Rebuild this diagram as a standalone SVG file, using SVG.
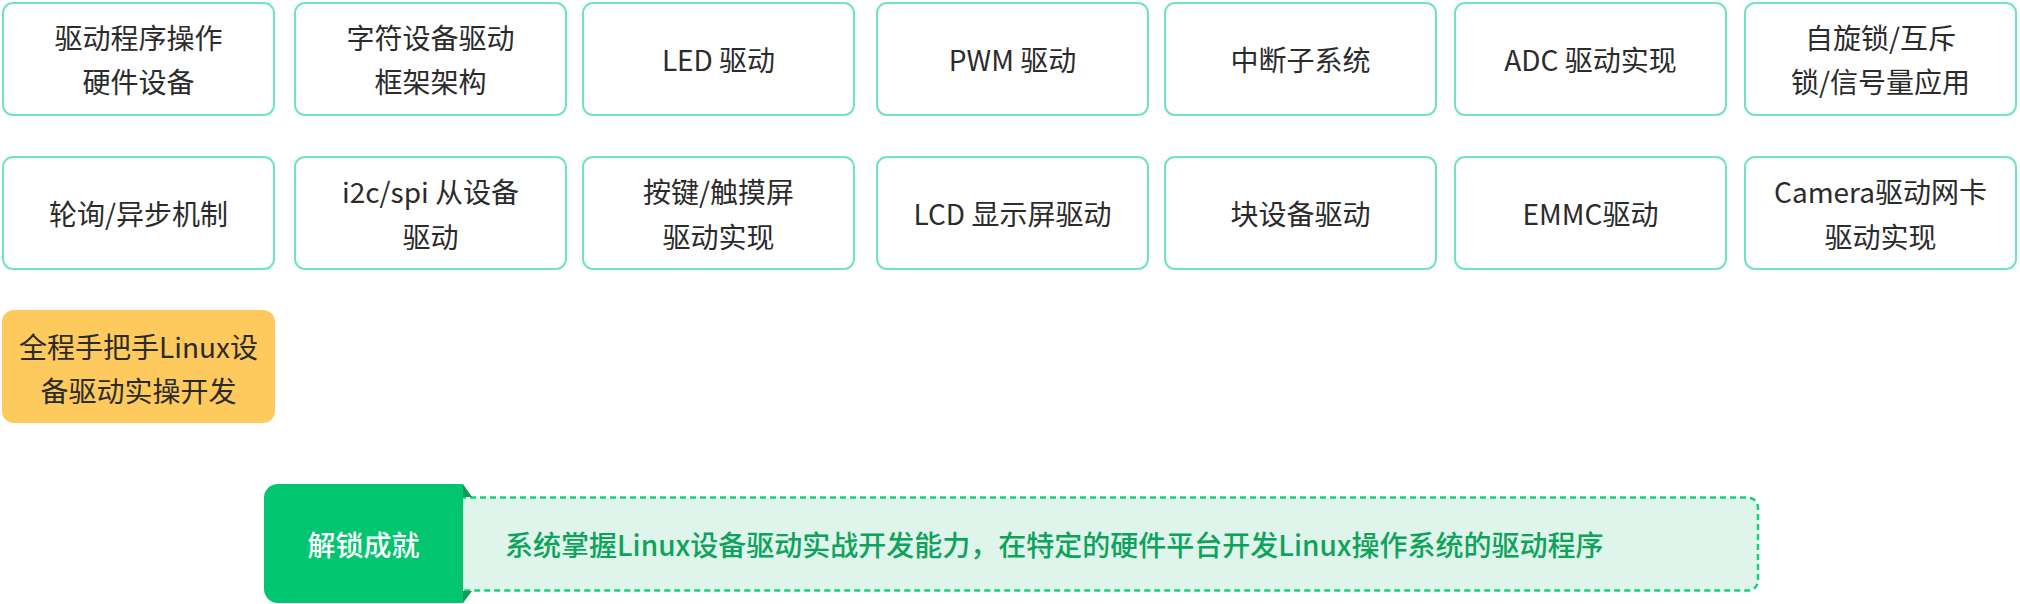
<svg xmlns="http://www.w3.org/2000/svg" width="2020" height="604" viewBox="0 0 2020 604">
<style>
.box{fill:#ffffff;stroke:#6fe6b6;stroke-width:2}
.t{font-family:"Noto Sans CJK SC","Noto Sans",sans-serif;font-size:28px;fill:#2b2b2b;text-anchor:middle;dominant-baseline:central}
.tw{font-family:"Noto Sans CJK SC","Noto Sans",sans-serif;font-size:28px;fill:#ffffff;text-anchor:middle;dominant-baseline:central;font-weight:500}
.tg{font-family:"Noto Sans CJK SC","Noto Sans",sans-serif;font-size:28px;fill:#0ea35c;dominant-baseline:central;font-weight:500}
</style>
<rect width="2020" height="604" fill="#ffffff"/>
<g id="n1"><rect class="box" x="3" y="3" width="271" height="112" rx="10"/><text class="t" x="138.5" y="36.5">驱动程序操作</text><text class="t" x="138.5" y="80.5">硬件设备</text></g>
<g id="n2"><rect class="box" x="295" y="3" width="271" height="112" rx="10"/><text class="t" x="430.5" y="36.5">字符设备驱动</text><text class="t" x="430.5" y="80.5">框架架构</text></g>
<g id="n3"><rect class="box" x="583" y="3" width="271" height="112" rx="10"/><text class="t" x="718.5" y="58.5">LED 驱动</text></g>
<g id="n4"><rect class="box" x="877" y="3" width="271" height="112" rx="10"/><text class="t" x="1012.5" y="58.5">PWM 驱动</text></g>
<g id="n5"><rect class="box" x="1165" y="3" width="271" height="112" rx="10"/><text class="t" x="1300.5" y="58.5">中断子系统</text></g>
<g id="n6"><rect class="box" x="1455" y="3" width="271" height="112" rx="10"/><text class="t" x="1590.5" y="58.5">ADC 驱动实现</text></g>
<g id="n7"><rect class="box" x="1745" y="3" width="271" height="112" rx="10"/><text class="t" x="1880.5" y="36.5">自旋锁/互斥</text><text class="t" x="1880.5" y="80.5">锁/信号量应用</text></g>
<g id="n8"><rect class="box" x="3" y="157" width="271" height="112" rx="10"/><text class="t" x="138.5" y="213">轮询/异步机制</text></g>
<g id="n9"><rect class="box" x="295" y="157" width="271" height="112" rx="10"/><text class="t" x="430.5" y="191">i2c/spi 从设备</text><text class="t" x="430.5" y="235.5">驱动</text></g>
<g id="n10"><rect class="box" x="583" y="157" width="271" height="112" rx="10"/><text class="t" x="718.5" y="191">按键/触摸屏</text><text class="t" x="718.5" y="235.5">驱动实现</text></g>
<g id="n11"><rect class="box" x="877" y="157" width="271" height="112" rx="10"/><text class="t" x="1012.5" y="213">LCD 显示屏驱动</text></g>
<g id="n12"><rect class="box" x="1165" y="157" width="271" height="112" rx="10"/><text class="t" x="1300.5" y="213">块设备驱动</text></g>
<g id="n13"><rect class="box" x="1455" y="157" width="271" height="112" rx="10"/><text class="t" x="1590.5" y="213">EMMC驱动</text></g>
<g id="n14"><rect class="box" x="1745" y="157" width="271" height="112" rx="10"/><text class="t" x="1880.5" y="191">Camera驱动网卡</text><text class="t" x="1880.5" y="235.5">驱动实现</text></g>
<g id="n15"><rect x="2" y="310" width="273" height="113" rx="12" fill="#fec95d"/><text class="t" x="138.5" y="345.5">全程手把手Linux设</text><text class="t" x="138.5" y="389.5">备驱动实操开发</text></g>
<g id="achievement">
<rect x="450" y="497.5" width="1308" height="93" rx="10" fill="#dff4ea" stroke="#13d27a" stroke-width="2.5" stroke-dasharray="6 4"/>
<polygon points="463,484 472,497 463,497" fill="#0b9f58"/>
<polygon points="463,591 472,591 463,603" fill="#0b9f58"/>
<path d="M278,484 H463 V603 H278 A14,14 0 0 1 264,589 V498 A14,14 0 0 1 278,484 Z" fill="#02c56f"/>
<text class="tw" x="363.5" y="543.5">解锁成就</text>
<text class="tg" x="505" y="544">系统掌握Linux设备驱动实战开发能力，在特定的硬件平台开发Linux操作系统的驱动程序</text>
</g>
<g id="connectors"></g>
</svg>
